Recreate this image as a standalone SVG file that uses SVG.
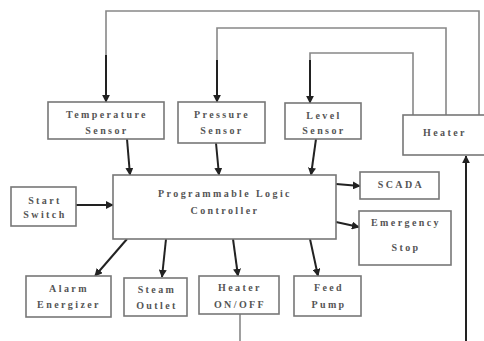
<svg xmlns="http://www.w3.org/2000/svg" width="484" height="341" viewBox="0 0 484 341">
<style>
.box{fill:#fff;stroke:#777;stroke-width:1.6}
.t{font-family:"Liberation Serif",serif;font-weight:bold;font-size:10px;letter-spacing:2.4px;fill:#555;text-anchor:middle}
.fb{fill:none;stroke:#888;stroke-width:1.6}
.ar{fill:none;stroke:#222;stroke-width:2;marker-end:url(#ah)}
</style>
<defs>
<marker id="ah" viewBox="0 0 10 10" refX="9" refY="5" markerWidth="4" markerHeight="4" orient="auto" markerUnits="strokeWidth">
<path d="M0,0 L10,5 L0,10 z" fill="#222"/>
</marker>
</defs>
<rect width="484" height="341" fill="#fff"/>
<g id="connectors">
<path class="fb" d="M106,55 V11 H479 V115"/>
<path class="fb" d="M217,60 V28 H446 V115"/>
<path class="fb" d="M310,60 V53 H413 V115"/>
<path class="ar" d="M106,55 V102"/>
<path class="ar" d="M217,60 V102"/>
<path class="ar" d="M310,60 V103"/>
<path class="fb" d="M240,314 V341"/>
<path class="ar" d="M466,341 V156"/>
<path class="ar" d="M127,139 L130,175"/>
<path class="ar" d="M216,143 L219,175"/>
<path class="ar" d="M316,139 L311,175"/>
<path class="ar" d="M76,205 L113,205"/>
<path class="ar" d="M336,184 L360,186"/>
<path class="ar" d="M336,222 L359,227"/>
<path class="ar" d="M127,239 L95,276"/>
<path class="ar" d="M166,239 L162,277"/>
<path class="ar" d="M233,239 L238,276"/>
<path class="ar" d="M310,239 L318,276"/>
</g>
<g id="temp"><rect class="box" x="48" y="102" width="116" height="37"/><text class="t" x="107" y="118">Temperature</text><text class="t" x="107" y="134">Sensor</text></g>
<g id="pressure"><rect class="box" x="178" y="102" width="87" height="41"/><text class="t" x="222" y="118">Pressure</text><text class="t" x="222" y="134">Sensor</text></g>
<g id="level"><rect class="box" x="285" y="103" width="76" height="36"/><text class="t" x="324" y="119">Level</text><text class="t" x="324" y="134">Sensor</text></g>
<g id="heater"><rect class="box" x="403" y="115" width="84" height="40"/><text class="t" x="445" y="136">Heater</text></g>
<g id="start"><rect class="box" x="11" y="187" width="65" height="39"/><text class="t" x="45" y="204">Start</text><text class="t" x="45" y="218">Switch</text></g>
<g id="plc"><rect class="box" x="113" y="175" width="223" height="64"/><text class="t" x="225" y="197">Programmable Logic</text><text class="t" x="225" y="214">Controller</text></g>
<g id="scada"><rect class="box" x="360" y="172" width="79" height="27"/><text class="t" x="401" y="188">SCADA</text></g>
<g id="emergency"><rect class="box" x="359" y="211" width="92" height="54"/><text class="t" x="406" y="226">Emergency</text><text class="t" x="406" y="251">Stop</text></g>
<g id="alarm"><rect class="box" x="26" y="276" width="85" height="41"/><text class="t" x="69" y="292">Alarm</text><text class="t" x="69" y="308">Energizer</text></g>
<g id="steam"><rect class="box" x="124" y="278" width="63" height="38"/><text class="t" x="157" y="293">Steam</text><text class="t" x="157" y="309">Outlet</text></g>
<g id="heateronoff"><rect class="box" x="199" y="276" width="80" height="38"/><text class="t" x="240" y="291">Heater</text><text class="t" x="240" y="308">ON/OFF</text></g>
<g id="feed"><rect class="box" x="294" y="276" width="67" height="40"/><text class="t" x="329" y="291">Feed</text><text class="t" x="329" y="308">Pump</text></g>
</svg>
